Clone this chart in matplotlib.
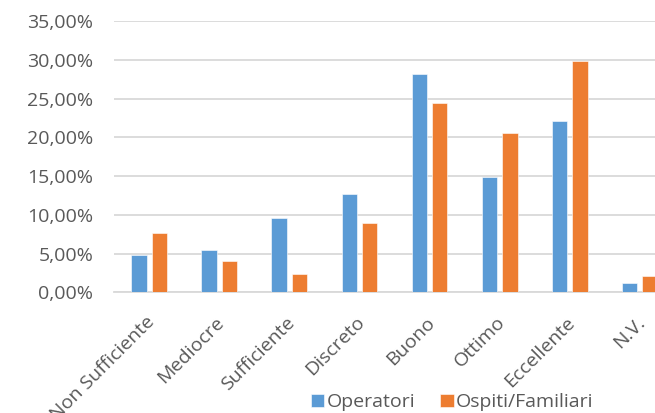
import matplotlib
matplotlib.use("Agg")
import matplotlib.pyplot as plt
import matplotlib.transforms as mtransforms
import numpy as np
from matplotlib.ticker import FuncFormatter

categories = ["Non Sufficiente", "Mediocre", "Sufficiente", "Discreto",
              "Buono", "Ottimo", "Eccellente", "N.V."]
operatori = [4.78, 5.50, 9.60, 12.66, 28.17, 14.86, 22.13, 1.20]
ospiti_familiari = [7.70, 4.08, 2.32, 8.95, 24.46, 20.54, 29.92, 2.07]
series_names = ["Operatori", "Ospiti/Familiari"]
y_ticks = [0, 5, 10, 15, 20, 25, 30, 35]

plt.rcParams["font.family"] = ["Open Sans", "DejaVu Sans"]
text_color = "#595959"
grid_color = "#d9d9d9"
blue = "#5B9BD5"
orange = "#ED7D31"
fs = 14

fig = plt.figure(figsize=(6.55, 4.13), dpi=100)
ax = fig.add_axes([114 / 655, (413 - 292.3) / 413, (675 - 114) / 655, 271 / 413])

x = np.arange(len(categories))
w = 0.22
off = 0.145
ax.bar(x - off, operatori, w, color=blue, edgecolor="#ffffff", linewidth=0.4,
       label=series_names[0], zorder=3)
ax.bar(x + off, ospiti_familiari, w, color=orange, edgecolor="#ffffff", linewidth=0.4,
       label=series_names[1], zorder=3)

ax.set_xlim(-0.5, len(categories) - 0.5)
ax.set_ylim(0, 35)
ax.set_yticks(y_ticks)
ax.yaxis.set_major_formatter(FuncFormatter(lambda v, p: f"{v:.2f}%".replace(".", ",")))
ax.grid(axis="y", color=grid_color, linewidth=1.3, zorder=0)
ax.set_axisbelow(True)

for s in ["top", "right", "left"]:
    ax.spines[s].set_visible(False)
ax.spines["bottom"].set_color(grid_color)
ax.spines["bottom"].set_linewidth(1.3)

ax.tick_params(axis="y", length=0, pad=15, labelsize=fs, labelcolor=text_color)
ax.tick_params(axis="x", length=0, pad=15, labelsize=fs, labelcolor=text_color)
ax.set_xticks(x)
ax.set_xticklabels(categories, rotation=45, ha="right", va="top",
                   rotation_mode="anchor")
shift = mtransforms.ScaledTranslation(-0.04, 0, fig.dpi_scale_trans)
for lbl in ax.get_xticklabels():
    lbl.set_transform(lbl.get_transform() + shift)

leg = fig.legend(loc="center left", bbox_to_anchor=(311 / 655, (413 - 402) / 413),
                 ncol=2, frameon=False, fontsize=fs, handlelength=0.68,
                 handleheight=0.68, handletextpad=0.12, columnspacing=1.3,
                 borderpad=0, borderaxespad=0)
for t in leg.get_texts():
    t.set_color(text_color)

fig.savefig("out.png", dpi=100)
